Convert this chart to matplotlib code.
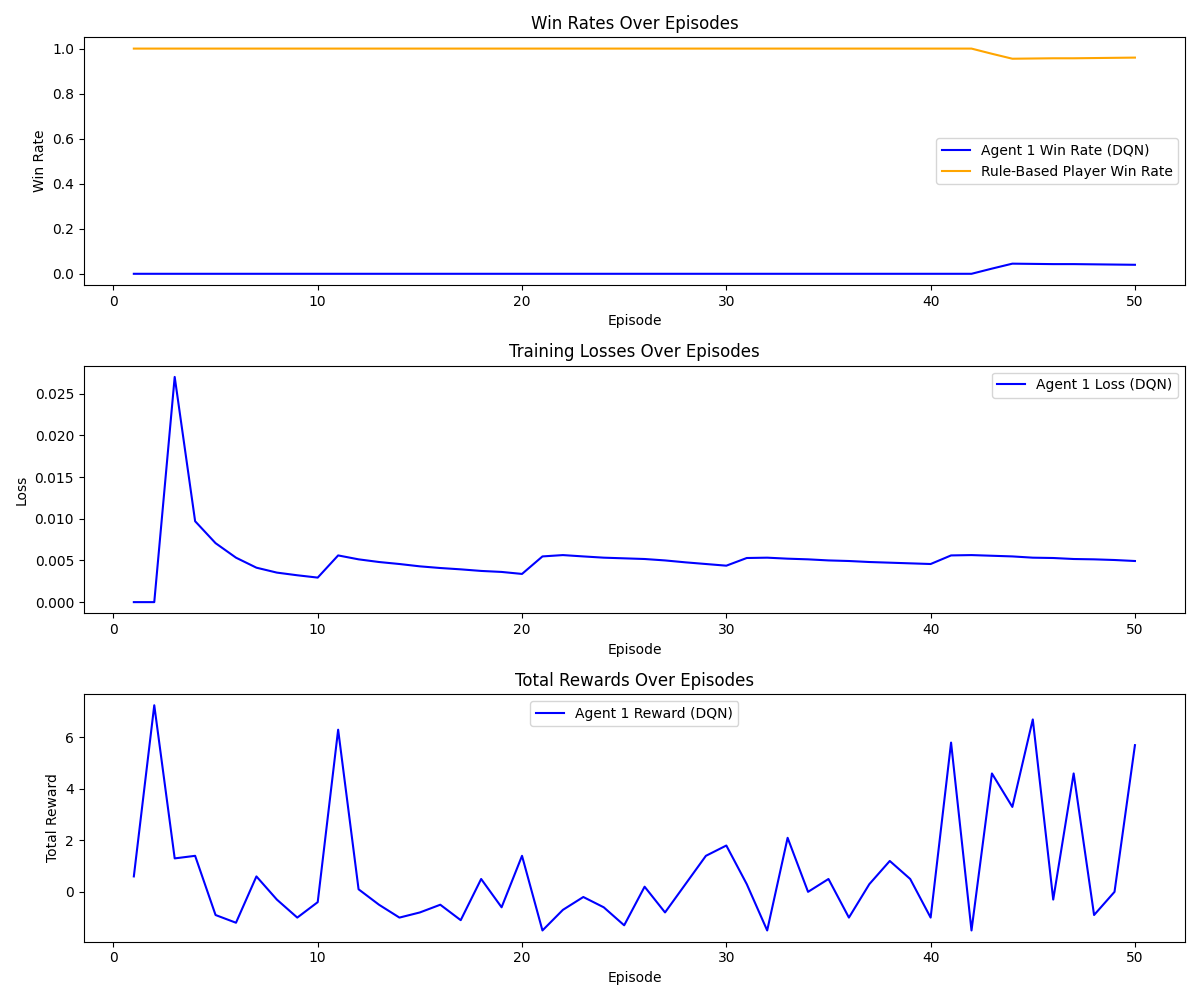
import matplotlib
matplotlib.use("Agg")
import matplotlib.pyplot as plt

episodes = list(range(1, 51))

agent_win_rate = [0.0] * 42 + [0.023, 0.045, 0.044, 0.043, 0.043, 0.042, 0.041, 0.040]
rule_win_rate = [1.0] * 42 + [0.977, 0.955, 0.956, 0.957, 0.957, 0.958, 0.959, 0.960]

agent_loss = [
    0.0, 0.0, 0.0270, 0.00970, 0.00707, 0.00533, 0.00413, 0.00354, 0.00322, 0.00294,
    0.00560, 0.00513, 0.00481, 0.00457, 0.00429, 0.00409, 0.00393, 0.00374, 0.00362, 0.00338,
    0.00548, 0.00564, 0.00548, 0.00533, 0.00525, 0.00517, 0.00500, 0.00477, 0.00457, 0.00437,
    0.00529, 0.00533, 0.00521, 0.00513, 0.00500, 0.00493, 0.00481, 0.00473, 0.00465, 0.00457,
    0.00560, 0.00564, 0.00556, 0.00548, 0.00533, 0.00529, 0.00517, 0.00513, 0.00505, 0.00493,
]

agent_reward = [
    0.6, 7.25, 1.3, 1.4, -0.9, -1.2, 0.6, -0.3, -1.0, -0.4,
    6.3, 0.1, -0.5, -1.0, -0.8, -0.5, -1.1, 0.5, -0.6, 1.4,
    -1.5, -0.7, -0.2, -0.6, -1.3, 0.2, -0.8, 0.3, 1.4, 1.8,
    0.3, -1.5, 2.1, 0.0, 0.5, -1.0, 0.3, 1.2, 0.5, -1.0,
    5.8, -1.5, 4.6, 3.3, 6.7, -0.3, 4.6, -0.9, 0.0, 5.7,
]

fig, axes = plt.subplots(3, 1, figsize=(12, 10), dpi=100)

ax = axes[0]
ax.plot(episodes, agent_win_rate, color="blue", label="Agent 1 Win Rate (DQN)")
ax.plot(episodes, rule_win_rate, color="orange", label="Rule-Based Player Win Rate")
ax.set_title("Win Rates Over Episodes")
ax.set_xlabel("Episode")
ax.set_ylabel("Win Rate")
ax.legend()

ax = axes[1]
ax.plot(episodes, agent_loss, color="blue", label="Agent 1 Loss (DQN)")
ax.set_title("Training Losses Over Episodes")
ax.set_xlabel("Episode")
ax.set_ylabel("Loss")
ax.legend()

ax = axes[2]
ax.plot(episodes, agent_reward, color="blue", label="Agent 1 Reward (DQN)")
ax.set_title("Total Rewards Over Episodes")
ax.set_xlabel("Episode")
ax.set_ylabel("Total Reward")
ax.legend()

plt.tight_layout()
plt.savefig("out.png")
